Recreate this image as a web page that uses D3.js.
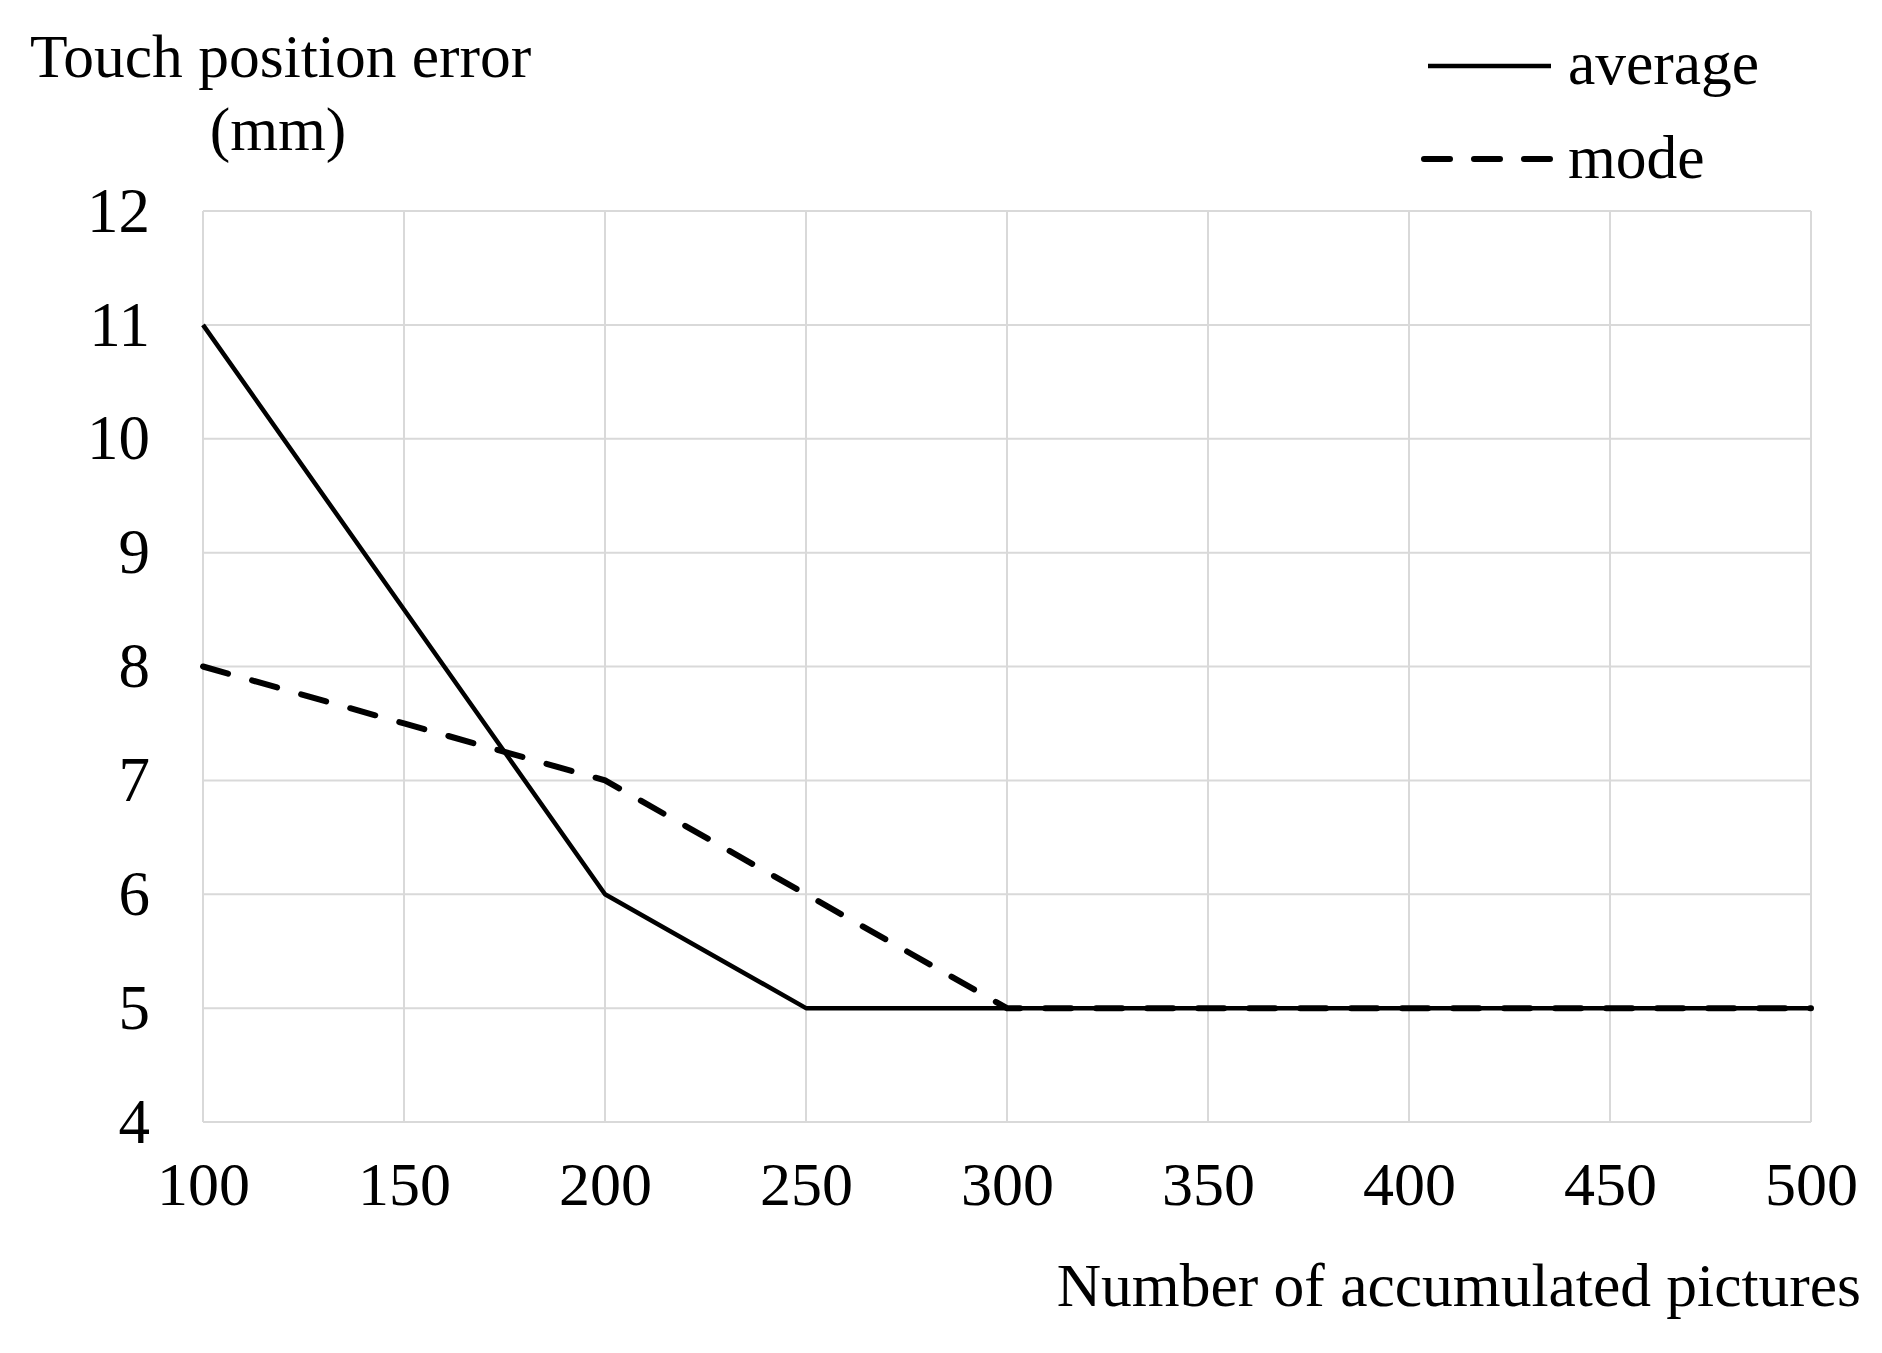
<!DOCTYPE html>
<html>
<head>
<meta charset="utf-8">
<script src="https://cdn.jsdelivr.net/npm/d3@7"></script>
<style>
  html, body { margin: 0; padding: 0; background: #fff; }
  svg { display: block; }
  text { font-family: "Liberation Serif", "Times New Roman", serif; fill: #000; }
</style>
</head>
<body>
<svg id="chart" width="1882" height="1353"></svg>
<script>
// ---- data ----
const pictures = [100, 150, 200, 250, 300, 350, 400, 450, 500];
const averageErr = [11, 8.5, 6, 5, 5, 5, 5, 5, 5];
const modeErr = [8, 7.5, 7, 6, 5, 5, 5, 5, 5];
const xTicks = [100, 150, 200, 250, 300, 350, 400, 450, 500];
const yTicks = [4, 5, 6, 7, 8, 9, 10, 11, 12];
const seriesNames = ["average", "mode"];
const yTitleLines = ["Touch position error", "(mm)"];
const xTitle = "Number of accumulated pictures";

// ---- layout ----
const svg = d3.select("#chart");
const plot = { left: 203, right: 1811, top: 211, bottom: 1122 };
const x = d3.scaleLinear().domain([100, 500]).range([plot.left, plot.right]);
const y = d3.scaleLinear().domain([4, 12]).range([plot.bottom, plot.top]);

// grid
const grid = svg.append("g");
grid.selectAll("line.v").data(xTicks).enter().append("line")
  .attr("x1", d => x(d)).attr("x2", d => x(d))
  .attr("y1", plot.top).attr("y2", plot.bottom)
  .attr("stroke", "#d9d9d9").attr("stroke-width", 2);
grid.selectAll("line.h").data(yTicks).enter().append("line")
  .attr("x1", plot.left).attr("x2", plot.right)
  .attr("y1", d => y(d)).attr("y2", d => y(d))
  .attr("stroke", "#d9d9d9").attr("stroke-width", 2);

// axes (labels only)
const xAxis = svg.append("g").attr("transform", `translate(0,${plot.bottom})`)
  .call(d3.axisBottom(x).tickValues(xTicks).tickSize(0).tickPadding(39));
xAxis.select(".domain").remove();
xAxis.selectAll("text").style("font-size", "62px").attr("dy", "0.71em")
  .attr("font-family", "Liberation Serif");

const yAxis = svg.append("g").attr("transform", `translate(${plot.left},0)`)
  .call(d3.axisLeft(y).tickValues(yTicks).tickSize(0).tickPadding(53));
yAxis.select(".domain").remove();
yAxis.selectAll("text").style("font-size", "63px")
  .attr("font-family", "Liberation Serif");

// lines
const line = d3.line().x((d, i) => x(pictures[i])).y(d => y(d));
svg.append("path").datum(averageErr).attr("d", line)
  .attr("fill", "none").attr("stroke", "#000").attr("stroke-width", 4.5)
  .attr("stroke-linejoin", "round");
svg.append("path").datum(modeErr).attr("d", line)
  .attr("fill", "none").attr("stroke", "#000").attr("stroke-width", 6)
  .attr("stroke-dasharray", "26,25").attr("stroke-linecap", "round");

// y title
svg.append("text").attr("x", 30).attr("y", 77).style("font-size", "61.5px")
  .text(yTitleLines[0]);
svg.append("text").attr("x", 278).attr("y", 150).attr("text-anchor", "middle")
  .style("font-size", "61.5px").text(yTitleLines[1]);

// x title
svg.append("text").attr("x", 1861).attr("y", 1306).attr("text-anchor", "end")
  .style("font-size", "61.5px").text(xTitle);

// legend
const legend = svg.append("g");
legend.append("line").attr("x1", 1428).attr("x2", 1551).attr("y1", 66).attr("y2", 66)
  .attr("stroke", "#000").attr("stroke-width", 4.5);
legend.append("line").attr("x1", 1424).attr("x2", 1551).attr("y1", 159).attr("y2", 159)
  .attr("stroke", "#000").attr("stroke-width", 6)
  .attr("stroke-dasharray", "26,24").attr("stroke-linecap", "round");
legend.append("text").attr("x", 1568).attr("y", 84).style("font-size", "61.5px").text(seriesNames[0]);
legend.append("text").attr("x", 1568).attr("y", 178).style("font-size", "61.5px").text(seriesNames[1]);
</script>
</body>
</html>
